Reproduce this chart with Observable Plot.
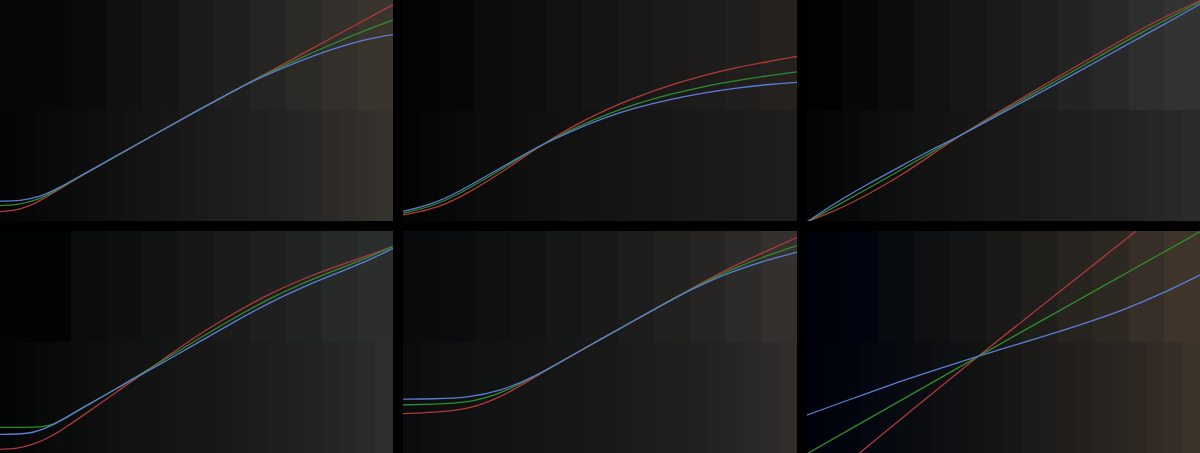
<!DOCTYPE html>
<html><head><meta charset="utf-8">
<script src="https://cdn.jsdelivr.net/npm/d3@7"></script>
<script src="https://cdn.jsdelivr.net/npm/@observablehq/plot@0.6"></script>
<style>
html,body{margin:0;padding:0;background:#000;width:1200px;height:453px;overflow:hidden}
#wrap{position:relative;width:1200px;height:453px;background:#000}
.panel{position:absolute}
.panel svg{display:block}
</style></head>
<body><div id="wrap"></div>
<script>
// ---- Curve data (input 0..1 -> output 0..1) ----
const p1x     = [0, 0.05, 0.1, 0.15, 0.2, 0.3, 0.4, 0.5, 0.6, 0.636, 0.7, 0.763, 0.827, 0.891, 0.945, 1];
const p1Red   = [0.045, 0.052, 0.092, 0.147, 0.2, 0.302, 0.402, 0.501, 0.596, 0.632, 0.693, 0.754, 0.816, 0.877, 0.929, 0.982];
const p1Green = [0.072, 0.077, 0.1, 0.15, 0.201, 0.302, 0.402, 0.501, 0.597, 0.632, 0.688, 0.74, 0.79, 0.838, 0.877, 0.913];
const p1Blue  = [0.092, 0.093, 0.11, 0.153, 0.203, 0.302, 0.402, 0.501, 0.597, 0.63, 0.681, 0.727, 0.769, 0.806, 0.83, 0.846];

const p2x     = [0, 0.085, 0.169, 0.254, 0.338, 0.423, 0.508, 0.592, 0.677, 0.761, 0.846, 0.931, 1];
const p2Red   = [0.03, 0.058, 0.133, 0.228, 0.332, 0.425, 0.502, 0.564, 0.617, 0.661, 0.698, 0.725, 0.747];
const p2Green = [0.038, 0.073, 0.152, 0.241, 0.336, 0.415, 0.48, 0.534, 0.576, 0.611, 0.638, 0.661, 0.677];
const p2Blue  = [0.047, 0.083, 0.163, 0.25, 0.336, 0.407, 0.469, 0.517, 0.553, 0.582, 0.605, 0.621, 0.63];

const p3x     = [0, 0.076, 0.152, 0.237, 0.321, 0.377, 0.491, 0.576, 0.661, 0.745, 0.83, 0.915, 1];
const p3Red   = [0, 0.052, 0.12, 0.207, 0.308, 0.377, 0.5, 0.591, 0.679, 0.765, 0.852, 0.932, 1.0];
const p3Green = [0, 0.072, 0.148, 0.233, 0.318, 0.377, 0.494, 0.58, 0.665, 0.75, 0.836, 0.917, 0.995];
const p3Blue  = [0, 0.09, 0.168, 0.25, 0.33, 0.377, 0.487, 0.568, 0.65, 0.733, 0.817, 0.899, 0.985];

const p4x     = [0, 0.042, 0.085, 0.127, 0.17, 0.212, 0.254, 0.297, 0.331, 0.424, 0.509, 0.594, 0.679, 0.763, 0.848, 0.933, 1];
const p4Red   = [0.019, 0.022, 0.041, 0.074, 0.122, 0.174, 0.226, 0.279, 0.321, 0.437, 0.542, 0.632, 0.715, 0.782, 0.839, 0.89, 0.934];
const p4Green = [0.118, 0.118, 0.118, 0.122, 0.165, 0.209, 0.251, 0.294, 0.331, 0.43, 0.522, 0.61, 0.693, 0.763, 0.823, 0.881, 0.934];
const p4Blue  = [0.086, 0.087, 0.093, 0.122, 0.165, 0.209, 0.251, 0.294, 0.329, 0.42, 0.506, 0.592, 0.675, 0.745, 0.807, 0.867, 0.925];

const p5x     = [0, 0.077, 0.162, 0.246, 0.331, 0.415, 0.5, 0.585, 0.669, 0.754, 0.838, 0.923, 1];
const p5Red   = [0.18, 0.185, 0.198, 0.251, 0.342, 0.429, 0.514, 0.598, 0.682, 0.766, 0.845, 0.913, 0.974];
const p5Green = [0.219, 0.222, 0.228, 0.269, 0.344, 0.429, 0.514, 0.598, 0.682, 0.764, 0.834, 0.892, 0.937];
const p5Blue  = [0.245, 0.246, 0.251, 0.281, 0.344, 0.429, 0.514, 0.598, 0.682, 0.76, 0.822, 0.872, 0.907];

const p6RedX   = [0.131, 0.432, 0.835];
const p6Red    = [0, 0.437, 1];
const p6GreenX = [0, 0.432, 1];
const p6Green  = [0, 0.437, 1];
const p6BlueX  = [0, 0.152, 0.237, 0.321, 0.432, 0.576, 0.703, 0.805, 0.89, 1];
const p6Blue   = [0.174, 0.272, 0.325, 0.375, 0.437, 0.514, 0.584, 0.647, 0.71, 0.805];

// ---- Background colour patches (top row / bottom row) ----
const p1Top = ["#050607","#060707","#0b0b0b","#101111","#151515","#1a1a1a","#1f1f1f","#252423","#2c2a27","#33302c","#3a342f"];
const p1Bot = ["#050505","#070707","#09090a","#0b0b0b","#0d0d0d","#0f0f0f","#111111","#131313","#151515","#171717","#191919","#1b1b1b","#1d1d1d","#1f1e1e","#21201f","#232221","#262423","#292725","#2c2927","#2f2c29","#322f2b","#35322e"];
const p2Top = ["#030405","#050606","#0b0c0c","#0d0f0e","#121212","#151515","#181818","#1b1a19","#1e1c1b","#211f1d","#24211f"];
const p2Bot = ["#040404","#060606","#080808","#0a0a0a","#0c0c0c","#0d0d0d","#0f0f0f","#101010","#111111","#121212","#131313","#141414","#151515","#161616","#171717","#181818","#1a1919","#1b1a1a","#1c1b1a","#1d1c1b","#1f1d1c","#201e1d"];
const p3Top = ["#010202","#060708","#0b0c0c","#111212","#161616","#1a1a1a","#1e1e1e","#232323","#282828","#2e2e2e","#333333"];
const p3Bot = ["#040505","#060707","#08090a","#0b0c0c","#0d0e0e","#0f1010","#111212","#131313","#151515","#161616","#181818","#191919","#1b1b1b","#1c1c1c","#1e1e1e","#1f1f1f","#212121","#222222","#242424","#262626","#282828","#2b2b2b"];
const p4Top = ["#010403","#020404","#0b0c0c","#0e100f","#121413","#161716","#1a1b1a","#1e1f1e","#222423","#282a29","#2c2e2d"];
const p4Bot = ["#040505","#060707","#080909","#0a0b0b","#0c0d0d","#0e0f0f","#101111","#111212","#131313","#141515","#161616","#171717","#191919","#1a1a1a","#1c1c1c","#1e1e1e","#202020","#222222","#242424","#272727","#2a2a2a","#2e2e2e"];
const p5Top = ["#0a0b0c","#0b0c0d","#0f1010","#121313","#151616","#191919","#1c1c1c","#212120","#262524","#2d2b29","#33302d"];
const p5Bot = ["#0b0c0d","#0d0e0f","#0f1010","#101111","#111212","#121313","#131414","#141515","#161616","#171717","#181818","#191919","#1b1b1b","#1c1c1c","#1e1e1d","#201f1f","#222120","#242322","#272524","#2a2826","#2d2b29","#302d2b"];
const p6Top = ["#00020c","#01040f","#080c10","#0e1012","#141516","#191918","#201e1b","#27231f","#2e2823","#362e27","#3f342a"];
const p6Bot = ["#00020b","#01030d","#02050e","#04070f","#060910","#080b10","#0a0c11","#0d0f12","#101112","#121313","#151515","#181716","#1b1a18","#1e1c1a","#211e1b","#24201c","#27231e","#2a2520","#2e2822","#322b24","#362e26","#3b3228"];

const channelColors = {red: "#b3383a", green: "#2e8c2e", blue: "#5b7dd4"};

const rows = (xs, ys) => xs.map((x, i) => ({x, y: ys[i]}));

const panels = [
  {left: 0,   top: 0,   w: 393, h: 221, topC: p1Top, botC: p1Bot, r: rows(p1x, p1Red), g: rows(p1x, p1Green), b: rows(p1x, p1Blue)},
  {left: 403, top: 0,   w: 394, h: 221, topC: p2Top, botC: p2Bot, r: rows(p2x, p2Red), g: rows(p2x, p2Green), b: rows(p2x, p2Blue)},
  {left: 807, top: 0,   w: 393, h: 221, topC: p3Top, botC: p3Bot, r: rows(p3x, p3Red), g: rows(p3x, p3Green), b: rows(p3x, p3Blue)},
  {left: 0,   top: 231, w: 393, h: 222, topC: p4Top, botC: p4Bot, r: rows(p4x, p4Red), g: rows(p4x, p4Green), b: rows(p4x, p4Blue)},
  {left: 403, top: 231, w: 394, h: 222, topC: p5Top, botC: p5Bot, r: rows(p5x, p5Red), g: rows(p5x, p5Green), b: rows(p5x, p5Blue)},
  {left: 807, top: 231, w: 393, h: 222, topC: p6Top, botC: p6Bot, r: rows(p6RedX, p6Red), g: rows(p6GreenX, p6Green), b: rows(p6BlueX, p6Blue)}
];

const wrap = document.getElementById("wrap");
for (const p of panels) {
  const nT = p.topC.length, nB = p.botC.length;
  const chart = Plot.plot({
    width: p.w, height: p.h,
    margin: 0,
    style: {background: "#000", overflow: "hidden"},
    x: {domain: [0, 1], axis: null},
    y: {domain: [0, 1], axis: null},
    marks: [
      Plot.rect(p.topC, {x1: (d, i) => i / nT, x2: (d, i) => (i + 1) / nT, y1: () => 0.5, y2: () => 1, fill: d => d, inset: -0.3}),
      Plot.rect(p.botC, {x1: (d, i) => i / nB, x2: (d, i) => (i + 1) / nB, y1: () => 0, y2: () => 0.5, fill: d => d, inset: -0.3}),
      Plot.line(p.r, {x: "x", y: "y", stroke: channelColors.red, strokeWidth: 1.3, curve: "basis", clip: true}),
      Plot.line(p.g, {x: "x", y: "y", stroke: channelColors.green, strokeWidth: 1.3, curve: "basis", clip: true}),
      Plot.line(p.b, {x: "x", y: "y", stroke: channelColors.blue, strokeWidth: 1.3, curve: "basis", clip: true})
    ]
  });
  const div = document.createElement("div");
  div.className = "panel";
  div.style.left = p.left + "px";
  div.style.top = p.top + "px";
  div.style.width = p.w + "px";
  div.style.height = p.h + "px";
  div.appendChild(chart);
  wrap.appendChild(div);
}
</script>
</body></html>
